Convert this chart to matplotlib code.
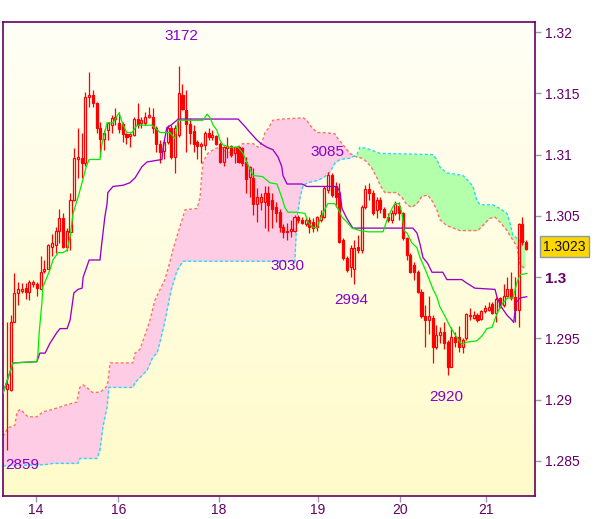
import numpy as np
import matplotlib
matplotlib.use("Agg")
import matplotlib.pyplot as plt
from matplotlib.patches import Rectangle
from matplotlib.collections import LineCollection
import matplotlib.transforms as mtransforms

plt.rcParams['font.family'] = ['Liberation Sans', 'DejaVu Sans']

# candles, one per bar (bar index = position)
opens = [1.2909, 1.2908, 1.2963, 1.2987, 1.2989, 1.2991, 1.2988, 1.2994, 1.2994, 1.2990,
         1.3005, 1.3007, 1.3025, 1.3026, 1.3038, 1.3048, 1.3025, 1.3037, 1.3063, 1.3096,
         1.3097, 1.3093, 1.3147, 1.3149, 1.3142, 1.3122, 1.3113, 1.3120, 1.3124, 1.3129,
         1.3126, 1.3125, 1.3117, 1.3115, 1.3116, 1.3129, 1.3126, 1.3126, 1.3131, 1.3131,
         1.3122, 1.3109, 1.3103, 1.3110, 1.3122, 1.3098, 1.3116, 1.3149, 1.3136, 1.3125,
         1.3119, 1.3110, 1.3107, 1.3108, 1.3118, 1.3114, 1.3115, 1.3109, 1.3094, 1.3105,
         1.3107, 1.3101, 1.3106, 1.3105, 1.3094, 1.3082, 1.3081, 1.3060, 1.3061, 1.3061,
         1.3069, 1.3063, 1.3057, 1.3053, 1.3041, 1.3038, 1.3038, 1.3038, 1.3049, 1.3047,
         1.3043, 1.3047, 1.3045, 1.3041, 1.3047, 1.3049, 1.3071, 1.3083, 1.3074, 1.3069,
         1.3030, 1.3016, 1.3008, 1.3007, 1.3025, 1.3022, 1.3057, 1.3072, 1.3069, 1.3055,
         1.3063, 1.3056, 1.3049, 1.3047, 1.3052, 1.3058, 1.3052, 1.3032, 1.3018, 1.3010,
         1.3004, 1.2988, 1.2968, 1.2965, 1.2967, 1.2943, 1.2953, 1.2955, 1.2947, 1.2927,
         1.2951, 1.2951, 1.2943, 1.2950, 1.2968, 1.2967, 1.2969, 1.2966, 1.2972, 1.2973,
         1.2978, 1.2971, 1.2983, 1.2977, 1.2985, 1.2990, 1.2984, 1.2973, 1.3043, 1.3029]
highs = [1.2963, 1.2969, 1.3003, 1.2996, 1.2995, 1.2995, 1.2998, 1.2998, 1.2996, 1.3017,
         1.3014, 1.3027, 1.3035, 1.3041, 1.3056, 1.3052, 1.3040, 1.3069, 1.3105, 1.3122,
         1.3118, 1.3151, 1.3167, 1.3153, 1.3143, 1.3127, 1.3120, 1.3127, 1.3132, 1.3138,
         1.3135, 1.3127, 1.3118, 1.3118, 1.3131, 1.3142, 1.3131, 1.3135, 1.3139, 1.3138,
         1.3123, 1.3112, 1.3113, 1.3124, 1.3124, 1.3124, 1.3172, 1.3158, 1.3153, 1.3130,
         1.3124, 1.3112, 1.3110, 1.3119, 1.3122, 1.3120, 1.3116, 1.3110, 1.3107, 1.3114,
         1.3108, 1.3107, 1.3107, 1.3106, 1.3098, 1.3091, 1.3089, 1.3073, 1.3069, 1.3074,
         1.3074, 1.3069, 1.3061, 1.3056, 1.3043, 1.3044, 1.3047, 1.3051, 1.3051, 1.3049,
         1.3049, 1.3049, 1.3048, 1.3050, 1.3055, 1.3074, 1.3086, 1.3085, 1.3078, 1.3077,
         1.3032, 1.3017, 1.3026, 1.3030, 1.3034, 1.3059, 1.3075, 1.3077, 1.3071, 1.3065,
         1.3065, 1.3057, 1.3052, 1.3055, 1.3062, 1.3061, 1.3053, 1.3033, 1.3020, 1.3012,
         1.3006, 1.2990, 1.2977, 1.2985, 1.2969, 1.2961, 1.2959, 1.2963, 1.2949, 1.2959,
         1.2955, 1.2960, 1.2950, 1.2971, 1.2975, 1.2972, 1.2971, 1.2973, 1.2977, 1.2980,
         1.2980, 1.2984, 1.2984, 1.2994, 1.3000, 1.3004, 1.3000, 1.3044, 1.3049, 1.3030]
lows = [1.2859, 1.2907, 1.2963, 1.2977, 1.2987, 1.2982, 1.2981, 1.2992, 1.2985, 1.2990,
        1.3003, 1.3007, 1.3017, 1.3020, 1.3028, 1.3024, 1.3021, 1.3022, 1.3062, 1.3081,
        1.3081, 1.3091, 1.3139, 1.3139, 1.3118, 1.3098, 1.3104, 1.3112, 1.3118, 1.3124,
        1.3118, 1.3110, 1.3109, 1.3106, 1.3115, 1.3122, 1.3122, 1.3124, 1.3130, 1.3118,
        1.3102, 1.3093, 1.3096, 1.3109, 1.3096, 1.3085, 1.3114, 1.3136, 1.3102, 1.3109,
        1.3102, 1.3096, 1.3093, 1.3104, 1.3112, 1.3112, 1.3108, 1.3093, 1.3091, 1.3097,
        1.3098, 1.3093, 1.3093, 1.3091, 1.3069, 1.3065, 1.3051, 1.3045, 1.3055, 1.3040,
        1.3038, 1.3040, 1.3045, 1.3037, 1.3032, 1.3030, 1.3033, 1.3037, 1.3044, 1.3043,
        1.3042, 1.3036, 1.3037, 1.3038, 1.3045, 1.3048, 1.3069, 1.3065, 1.3057, 1.3028,
        1.3014, 1.3004, 1.3000, 1.2994, 1.3020, 1.3020, 1.3056, 1.3063, 1.3051, 1.3048,
        1.3052, 1.3048, 1.3045, 1.3044, 1.3051, 1.3047, 1.3030, 1.3014, 1.3003, 1.2998,
        1.2987, 1.2967, 1.2943, 1.2954, 1.2930, 1.2941, 1.2946, 1.2941, 1.2920, 1.2927,
        1.2943, 1.2939, 1.2938, 1.2949, 1.2965, 1.2966, 1.2963, 1.2965, 1.2971, 1.2972,
        1.2970, 1.2963, 1.2975, 1.2976, 1.2984, 1.2981, 1.2963, 1.2959, 1.3026, 1.3022]
closes = [1.2913, 1.2963, 1.2987, 1.2990, 1.2990, 1.2988, 1.2996, 1.2996, 1.2991, 1.3004,
          1.3007, 1.3026, 1.3028, 1.3038, 1.3048, 1.3025, 1.3038, 1.3063, 1.3097, 1.3098,
          1.3093, 1.3147, 1.3149, 1.3142, 1.3122, 1.3113, 1.3118, 1.3126, 1.3130, 1.3131,
          1.3121, 1.3117, 1.3114, 1.3117, 1.3129, 1.3124, 1.3128, 1.3131, 1.3132, 1.3122,
          1.3109, 1.3102, 1.3110, 1.3122, 1.3098, 1.3122, 1.3150, 1.3137, 1.3125, 1.3118,
          1.3109, 1.3107, 1.3109, 1.3118, 1.3114, 1.3116, 1.3109, 1.3094, 1.3106, 1.3107,
          1.3100, 1.3106, 1.3094, 1.3093, 1.3080, 1.3090, 1.3060, 1.3065, 1.3065, 1.3069,
          1.3059, 1.3056, 1.3052, 1.3041, 1.3037, 1.3037, 1.3039, 1.3049, 1.3047, 1.3044,
          1.3047, 1.3041, 1.3040, 1.3049, 1.3051, 1.3073, 1.3083, 1.3067, 1.3065, 1.3029,
          1.3016, 1.3006, 1.3024, 1.3024, 1.3022, 1.3057, 1.3072, 1.3069, 1.3052, 1.3063,
          1.3056, 1.3049, 1.3047, 1.3052, 1.3060, 1.3052, 1.3032, 1.3018, 1.3004, 1.3004,
          1.2988, 1.2968, 1.2965, 1.2968, 1.2943, 1.2953, 1.2955, 1.2946, 1.2927, 1.2951,
          1.2947, 1.2943, 1.2949, 1.2970, 1.2969, 1.2969, 1.2965, 1.2972, 1.2975, 1.2976,
          1.2971, 1.2982, 1.2976, 1.2985, 1.2990, 1.2983, 1.2973, 1.3043, 1.3029, 1.3023]

# indicator lines, read as (bar, price) turning points
tenkan_x = [-1.1, 1.6, 8.0, 8.3, 8.6, 9.1, 9.4, 9.6, 10.7, 11.5, 12.3, 13.7, 15.0, 16.1, 16.9,
            17.7, 19.0, 20.1, 21.2, 22.0, 24.9, 25.4, 26.0, 26.8, 28.4, 30.0, 31.1, 32.1, 33.5,
            34.8, 38.8, 39.6, 41.0, 43.6, 45.0, 45.5, 45.8, 52.5, 53.6, 54.4, 55.2, 56.2, 57.0,
            57.8, 59.7, 61.9, 63.2, 64.3, 65.9, 68.5, 70.4, 72.3, 73.6, 74.4, 75.2, 77.6, 79.8,
            80.6, 81.7, 83.0, 83.8, 85.1, 85.9, 87.8, 88.6, 89.7, 91.0, 92.4, 94.5, 96.7, 100.7,
            101.7, 103.1, 103.9, 105.0, 105.8, 106.3, 107.1, 108.4, 109.8, 110.6, 111.9, 112.7,
            114.1, 115.1, 115.9, 117.3, 118.6, 120.0, 121.8, 123.2, 125.8, 127.2, 128.5, 129.9,
            130.7, 131.5, 132.8, 134.1, 135.5, 136.6, 137.4, 139.2]
tenkan_y = [1.2905, 1.2930, 1.2931, 1.2938, 1.2954, 1.2971, 1.2981, 1.2992, 1.3000, 1.3006,
            1.3014, 1.3020, 1.3020, 1.3022, 1.3033, 1.3052, 1.3065, 1.3077, 1.3090, 1.3096,
            1.3096, 1.3108, 1.3116, 1.3126, 1.3126, 1.3134, 1.3124, 1.3118, 1.3118, 1.3124,
            1.3124, 1.3122, 1.3118, 1.3118, 1.3113, 1.3122, 1.3128, 1.3128, 1.3133, 1.3130,
            1.3124, 1.3120, 1.3112, 1.3108, 1.3106, 1.3106, 1.3101, 1.3093, 1.3083, 1.3082,
            1.3077, 1.3076, 1.3065, 1.3057, 1.3053, 1.3053, 1.3052, 1.3045, 1.3041, 1.3040,
            1.3047, 1.3055, 1.3060, 1.3060, 1.3056, 1.3049, 1.3045, 1.3040, 1.3038, 1.3037,
            1.3037, 1.3046, 1.3056, 1.3060, 1.3060, 1.3052, 1.3038, 1.3036, 1.3028, 1.3024,
            1.3016, 1.3007, 1.3001, 1.2990, 1.2984, 1.2976, 1.2968, 1.2960, 1.2953, 1.2945,
            1.2947, 1.2948, 1.2952, 1.2958, 1.2959, 1.2966, 1.2972, 1.2979, 1.2983, 1.2983,
            1.2996, 1.3002, 1.3003]

kijun_x = [-1.1, 1.6, 8.0, 8.8, 10.2, 11.5, 13.4, 14.2, 16.1, 16.9, 17.4, 17.9, 19.0, 20.1,
           20.4, 21.2, 22.0, 24.9, 25.4, 26.2, 26.8, 27.0, 28.4, 31.1, 32.9, 34.3, 36.1, 37.5,
           41.5, 41.8, 42.3, 42.8, 43.9, 44.7, 45.5, 45.8, 61.9, 63.7, 65.1, 66.9, 68.0, 69.6,
           71.2, 72.6, 73.6, 73.9, 75.0, 75.8, 79.0, 80.3, 88.4, 89.2, 89.7, 91.0, 92.4, 92.6,
           108.7, 109.8, 110.6, 111.4, 112.7, 113.8, 116.7, 117.8, 121.8, 123.2, 125.3, 130.7,
           131.2, 132.3, 133.9, 135.2, 135.7, 136.3, 137.4, 139.2]
kijun_y = [1.2905, 1.2930, 1.2931, 1.2938, 1.2938, 1.2946, 1.2955, 1.2958, 1.2958, 1.2965,
           1.2976, 1.2987, 1.2990, 1.2991, 1.3000, 1.3007, 1.3014, 1.3014, 1.3028, 1.3049,
           1.3060, 1.3069, 1.3074, 1.3075, 1.3077, 1.3081, 1.3090, 1.3094, 1.3096, 1.3105,
           1.3114, 1.3122, 1.3124, 1.3126, 1.3128, 1.3129, 1.3129, 1.3123, 1.3118, 1.3112,
           1.3109, 1.3106, 1.3104, 1.3098, 1.3090, 1.3083, 1.3076, 1.3076, 1.3076, 1.3074,
           1.3074, 1.3069, 1.3056, 1.3048, 1.3041, 1.3040, 1.3040, 1.3036, 1.3027, 1.3016,
           1.3011, 1.3004, 1.3004, 1.2998, 1.2998, 1.2995, 1.2991, 1.2990, 1.2984, 1.2976,
           1.2969, 1.2965, 1.2963, 1.2979, 1.2983, 1.2984]

span_a_x = [-1.1, 0.3, 2.1, 2.7, 3.5, 4.3, 5.6, 8.0, 9.6, 12.1, 14.2, 16.1, 18.7, 19.5, 20.4,
            21.4, 22.8, 24.9, 26.5, 27.0, 27.6, 33.7, 34.3, 35.6, 37.0, 38.3, 39.6, 41.0, 42.3,
            43.6, 44.4, 46.9, 47.7, 50.9, 51.7, 52.2, 52.5, 53.8, 55.7, 57.6, 58.6, 60.2, 61.6,
            63.2, 65.9, 67.2, 68.3, 69.1, 69.9, 71.2, 73.9, 79.3, 80.3, 81.1, 83.0, 84.6, 87.8,
            88.6, 90.0, 91.8, 93.7, 95.1, 96.4, 97.7, 99.1, 99.9, 101.2, 104.4, 105.8, 107.1,
            108.4, 109.8, 111.1, 112.7, 114.1, 115.1, 115.9, 117.8, 121.3, 126.1, 128.0, 129.3,
            130.7, 132.0, 133.9, 135.5, 136.6, 137.4, 138.7]
span_a_y = [1.2870, 1.2877, 1.2879, 1.2890, 1.2892, 1.2890, 1.2886, 1.2886, 1.2890, 1.2892,
            1.2894, 1.2896, 1.2898, 1.2910, 1.2912, 1.2910, 1.2906, 1.2906, 1.2910, 1.2914,
            1.2930, 1.2930, 1.2938, 1.2941, 1.2953, 1.2965, 1.2981, 1.2990, 1.2998, 1.3012,
            1.3022, 1.3047, 1.3055, 1.3056, 1.3065, 1.3085, 1.3094, 1.3101, 1.3105, 1.3106,
            1.3102, 1.3102, 1.3106, 1.3109, 1.3109, 1.3106, 1.3110, 1.3118, 1.3121, 1.3128,
            1.3129, 1.3130, 1.3128, 1.3124, 1.3118, 1.3118, 1.3117, 1.3113, 1.3108, 1.3101,
            1.3098, 1.3097, 1.3094, 1.3089, 1.3081, 1.3075, 1.3069, 1.3069, 1.3065, 1.3059,
            1.3057, 1.3060, 1.3066, 1.3067, 1.3061, 1.3055, 1.3047, 1.3042, 1.3038, 1.3038,
            1.3044, 1.3048, 1.3049, 1.3045, 1.3038, 1.3030, 1.3025, 1.3010, 1.3007]

span_b_x = [-1.1, 10.2, 12.3, 19.0, 19.5, 24.1, 24.9, 25.7, 26.8, 27.3, 33.7, 34.3, 35.6, 37.5,
            39.1, 40.2, 42.0, 44.0, 45.5, 47.1, 77.1, 77.6, 78.5, 79.3, 80.6, 83.3, 85.1, 86.5,
            87.8, 89.2, 91.8, 93.7, 94.5, 96.4, 99.9, 114.1, 115.1, 115.9, 117.8, 122.1, 123.4,
            124.8, 125.8, 126.7, 130.1, 132.0, 133.9, 134.7, 135.5, 137.4, 138.7]
span_b_y = [1.2846, 1.2847, 1.2848, 1.2848, 1.2852, 1.2852, 1.2859, 1.2878, 1.2894, 1.2910,
            1.2910, 1.2914, 1.2918, 1.2924, 1.2935, 1.2938, 1.2960, 1.2990, 1.3005, 1.3013,
            1.3013, 1.3047, 1.3065, 1.3075, 1.3077, 1.3079, 1.3082, 1.3086, 1.3093, 1.3096,
            1.3097, 1.3100, 1.3106, 1.3105, 1.3101, 1.3100, 1.3096, 1.3090, 1.3085, 1.3083,
            1.3079, 1.3074, 1.3063, 1.3059, 1.3059, 1.3056, 1.3052, 1.3044, 1.3034, 1.3030,
            1.3029]

# swing labels
swing_text = ['3172', '3085', '3030', '2994', '2920', '2859']
swing_x = [46.6, 85.7, 75.0, 92.1, 117.5, 4.0]
swing_y = [1.3197, 1.3102, 1.3009, 1.2981, 1.2902, 1.2847]

yticks = [1.285, 1.29, 1.295, 1.3, 1.305, 1.31, 1.315, 1.32]
ytick_labels = ['1.285', '1.29', '1.295', '1.3', '1.305', '1.31', '1.315', '1.32']
xticks = [7.8, 29.8, 56.8, 83.3, 105.2, 128.2]
xtick_labels = ['14', '16', '18', '19', '20', '21']
last_price = '1.3023'

fig = plt.figure(figsize=(6.0, 5.19), dpi=100)
ax = fig.add_axes([3 / 600, 1 - 496 / 519, 532 / 600, 474 / 519])
xmin, xmax = -1.07, 141.4
ymin, ymax = 1.28214, 1.32082
ax.set_xlim(xmin, xmax)
ax.set_ylim(ymin, ymax)

# background gradient
top = np.array([1.0, 1.0, 0.965])
bot = np.array([1.0, 0.985, 0.79])
t = np.linspace(0, 1, 256)[:, None]
grad = (top * (1 - t) + bot * t)[:, None, :]
ax.imshow(grad, extent=[xmin, xmax, ymin, ymax], aspect='auto', zorder=0, origin='upper')

# cloud
grid = np.union1d(span_a_x, span_b_x)
a = np.interp(grid, span_a_x, span_a_y)
b = np.interp(grid, span_b_x, span_b_y)
ax.fill_between(grid, a, b, where=a >= b, interpolate=True, color='#FFCCE6', lw=0, zorder=1)
ax.fill_between(grid, a, b, where=a < b, interpolate=True, color='#B3FFAA', lw=0, zorder=1)
ax.plot(span_a_x, span_a_y, color='#FF6F6F', lw=1.0, ls=(0, (2.2, 1.6)), zorder=2)
ax.plot(span_b_x, span_b_y, color='#22DDF0', lw=1.0, ls=(0, (2.2, 1.6)), zorder=2)

# candles
w = 0.55
wicks = []
for i, (o, h, l, c) in enumerate(zip(opens, highs, lows, closes)):
    hi_b, lo_b = max(o, c), min(o, c)
    wicks.append([(i, hi_b), (i, h)])
    wicks.append([(i, lo_b), (i, l)])
    fc = '#FF0000' if c < o else 'none'
    ax.add_patch(Rectangle((i - w / 2, lo_b), w, max(hi_b - lo_b, 0.00004),
                           facecolor=fc, edgecolor='#FF0000', lw=0.9, zorder=3))
ax.add_collection(LineCollection(wicks, colors='#FF0000', linewidths=0.9, zorder=3))

ax.plot(kijun_x, kijun_y, color='#9900CC', lw=0.95, zorder=4)
ax.plot(tenkan_x, tenkan_y, color='#00EE00', lw=0.9, zorder=4)

for s, x, y in zip(swing_text, swing_x, swing_y):
    ax.text(x, y, s, color='#8800CC', fontsize=11, ha='center', va='center', zorder=5)

# axes styling
for sp in ax.spines.values():
    sp.set_color('#660066')
    sp.set_linewidth(1.2)
ax.yaxis.tick_right()
ax.set_yticks(yticks)
ax.set_yticklabels(ytick_labels)
ax.set_xticks(xticks)
ax.set_xticklabels(xtick_labels)
ax.tick_params(axis='both', direction='out', length=4, width=1, color='#9999AA',
               labelcolor='#660066', labelsize=10)
ax.tick_params(axis='y', pad=3)
ax.tick_params(axis='x', pad=1)
for lab in ax.get_yticklabels():
    if lab.get_text() == '1.3':
        lab.set_fontweight('bold')
        lab.set_fontsize(11)

trans = mtransforms.blended_transform_factory(ax.transAxes, ax.transData)
ax.text(1.0155, 1.30249, last_price, transform=trans, fontsize=10, color='#111111',
        ha='left', va='center', clip_on=False, zorder=6,
        bbox=dict(boxstyle='square,pad=0.25', facecolor='#FFD700', edgecolor='#8899AA', lw=1))

fig.savefig('out.png', dpi=100)
